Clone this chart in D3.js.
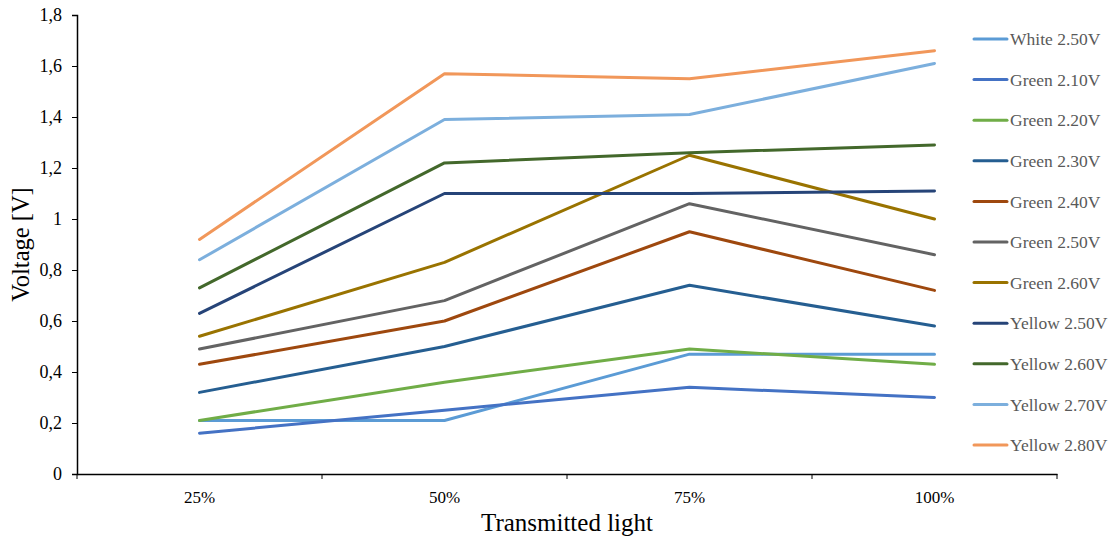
<!DOCTYPE html>
<html>
<head>
<meta charset="utf-8">
<script src="https://cdn.jsdelivr.net/npm/d3@7"></script>
<style>
  body { margin: 0; background: #fff; }
  svg { display: block; font-family: "Liberation Serif", "Times New Roman", serif; }
</style>
</head>
<body>
<div id="chart"></div>
<script>
// Voltage vs transmitted light, one line per LED / supply voltage

const categories = ["25%", "50%", "75%", "100%"];
const seriesNames = [
  "White 2.50V", "Green 2.10V", "Green 2.20V", "Green 2.30V", "Green 2.40V", "Green 2.50V",
  "Green 2.60V", "Yellow 2.50V", "Yellow 2.60V", "Yellow 2.70V", "Yellow 2.80V"
];
const seriesValues = [
  [0.21, 0.21, 0.47, 0.47],
  [0.16, 0.25, 0.34, 0.30],
  [0.21, 0.36, 0.49, 0.43],
  [0.32, 0.50, 0.74, 0.58],
  [0.43, 0.60, 0.95, 0.72],
  [0.49, 0.68, 1.06, 0.86],
  [0.54, 0.83, 1.25, 1.00],
  [0.63, 1.10, 1.10, 1.11],
  [0.73, 1.22, 1.26, 1.29],
  [0.84, 1.39, 1.41, 1.61],
  [0.92, 1.57, 1.55, 1.66]
];
const seriesColors = [
  "#5b9bd5", "#4472c4", "#70ad47", "#255e91", "#9e480e", "#636363",
  "#997300", "#264478", "#43682b", "#7cafdd", "#f1975a"
];
const yTicks = [0, 0.2, 0.4, 0.6, 0.8, 1, 1.2, 1.4, 1.6, 1.8];

const width = 1120, height = 540;
const margin = { top: 15, right: 63, bottom: 66, left: 77 };
const serif = "Liberation Serif, Times New Roman, serif";

const svg = d3.select("#chart").append("svg")
  .attr("width", width).attr("height", height);

const x = d3.scaleBand().domain(categories)
  .range([margin.left, width - margin.right]);
const y = d3.scaleLinear().domain([0, 1.8])
  .range([height - margin.bottom, margin.top]);

// Axes
const fmt = d => String(d).replace(".", ",");
const gY = svg.append("g")
  .attr("transform", `translate(${margin.left},0)`)
  .call(d3.axisLeft(y).tickValues(yTicks).tickFormat(fmt).tickSize(5).tickPadding(10));
gY.selectAll("text").attr("font-size", 18).attr("fill", "#000").attr("font-family", serif);

const gX = svg.append("g")
  .attr("transform", `translate(0,${height - margin.bottom})`)
  .call(d3.axisBottom(x).tickSize(0).tickPadding(17));
gX.selectAll("text").attr("font-size", 17).attr("fill", "#000").attr("font-family", serif);

// tick marks at category boundaries
const bounds = categories.map(c => x(c)).concat([x.range()[1]]);
gX.selectAll("line.bound").data(bounds).enter().append("line")
  .attr("class", "bound")
  .attr("x1", d => d).attr("x2", d => d)
  .attr("y1", 0).attr("y2", 5)
  .attr("stroke", "#000");

svg.selectAll(".domain").attr("stroke", "#000").attr("stroke-width", 1.5);
svg.selectAll(".tick line").attr("stroke", "#000");

// Axis titles
svg.append("text")
  .attr("transform", `translate(29,${(margin.top + height - margin.bottom) / 2}) rotate(-90)`)
  .attr("text-anchor", "middle").attr("font-size", 24.5).attr("fill", "#000")
  .text("Voltage [V]");
svg.append("text")
  .attr("x", (margin.left + width - margin.right) / 2).attr("y", 531)
  .attr("text-anchor", "middle").attr("font-size", 25).attr("fill", "#000")
  .text("Transmitted light");

// Lines
const line = d3.line()
  .x((d, i) => x(categories[i]) + x.bandwidth() / 2)
  .y(d => y(d));

svg.append("g").selectAll("path").data(seriesValues).enter().append("path")
  .attr("d", line)
  .attr("fill", "none")
  .attr("stroke", (d, i) => seriesColors[i])
  .attr("stroke-width", 3)
  .attr("stroke-linecap", "round")
  .attr("stroke-linejoin", "round");

// Legend
const legend = svg.append("g");
const lg = legend.selectAll("g").data(seriesNames).enter().append("g")
  .attr("transform", (d, i) => `translate(974,${39 + i * 40.6})`);
lg.append("line")
  .attr("x1", 0).attr("x2", 33)
  .attr("stroke", (d, i) => seriesColors[i])
  .attr("stroke-width", 3).attr("stroke-linecap", "round");
lg.append("text")
  .attr("x", 36).attr("dy", "0.35em")
  .attr("font-size", 17.5).attr("fill", "#595959")
  .text(d => d);
</script>
</body>
</html>
